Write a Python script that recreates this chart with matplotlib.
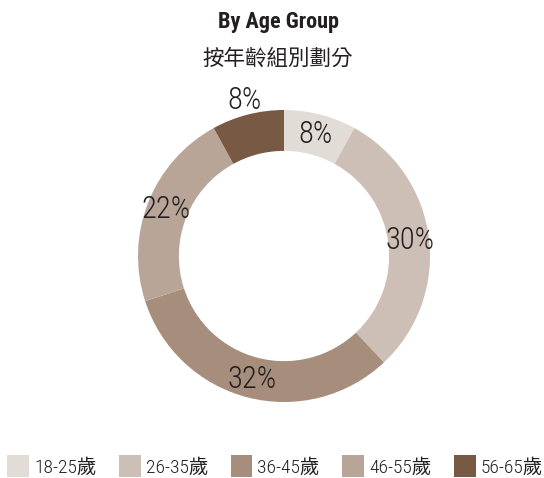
import matplotlib.pyplot as plt
import numpy as np
from matplotlib.patches import Patch

groups = ["18-25歲", "26-35歲", "36-45歲", "46-55歲", "56-65歲"]
shares = [8, 30, 32, 22, 8]
colors = ["#e2dcd7", "#cdbfb5", "#a68d7c", "#b9a598", "#785a44"]

narrow = ["Roboto Condensed", "Noto Sans CJK TC", "DejaVu Sans"]
ink = "#231f20"

fig = plt.figure(figsize=(5.44, 4.78), dpi=100)
ax = fig.add_axes([138 / 544, 76 / 478, 292 / 544, 292 / 478])

wedges, _ = ax.pie(shares, colors=colors, startangle=90, counterclock=False,
                   radius=1.0, wedgeprops=dict(width=0.28, edgecolor="none"))
ax.set_xlim(-1, 1)
ax.set_ylim(-1, 1)
ax.set_aspect("equal")
ax.axis("off")

# percentage labels, last one pushed outside the ring
label_r = [0.86, 0.87, 0.87, 0.87, 1.1]
for w, v, r in zip(wedges, shares, label_r):
    ang = np.deg2rad((w.theta1 + w.theta2) / 2)
    ax.text(r * np.cos(ang), r * np.sin(ang), f"{v}%", ha="center", va="center",
            fontsize=22, fontweight="light", color=ink, family=narrow, clip_on=False)

fig.text(278 / 544, 1 - 22 / 478, "By Age Group", ha="center", va="center",
         fontsize=16, fontweight="bold", color=ink, family=narrow)
fig.text(278 / 544, 1 - 58 / 478, "按年齡組別劃分", ha="center", va="center",
         fontsize=15.5, color=ink, family=["Noto Sans CJK TC", "DejaVu Sans"])

handles = [Patch(facecolor=c, edgecolor="none") for c in colors]
fig.legend(handles, groups, loc="center", bbox_to_anchor=(275 / 544, 1 - 466 / 478),
           ncol=5, frameon=False, handlelength=1.13, handleheight=1.36,
           handletextpad=0.25, columnspacing=1.15, borderpad=0, borderaxespad=0,
           prop=dict(family=narrow, size=14, weight="light"), labelcolor=ink)

fig.savefig("out.png", dpi=100)
